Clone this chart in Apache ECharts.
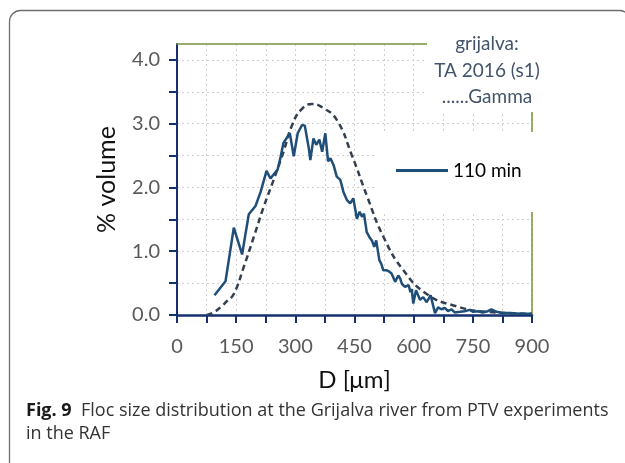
<!DOCTYPE html>
<html>
<head>
<meta charset="utf-8">
<script src="https://cdn.jsdelivr.net/npm/echarts@6/dist/echarts.min.js"></script>
<style>
html,body{margin:0;padding:0;background:#fff;}
#c{width:625px;height:463px;}
</style>
</head>
<body>
<div id="c"></div>
<script>
// ---- data ----
const dSize = [95,123,144,165,182,199,212,227,237,247,255,262,270,275,286,296,306,317,324,334,338,346,353,361,368,376,383,389,397,405,414,422,431,439,447,456,463,469,474,481,488,494,500,505,513,518,523,532,538,544,553,561,566,570,578,587,592,595,599,606,616,624,633,643,654,662,670,679,687,696,704,717,729,742,751,763,775,788,797,810,825,845,870,900];
const volume110 = [0.31,0.53,1.37,0.95,1.58,1.71,1.93,2.26,2.14,2.22,2.28,2.46,2.70,2.72,2.85,2.49,2.85,2.98,2.97,2.62,2.43,2.77,2.67,2.75,2.56,2.85,2.41,2.46,2.35,2.17,2.12,1.93,1.80,1.75,1.83,1.51,1.62,1.54,1.59,1.30,1.22,1.17,1.07,1.17,0.86,0.80,0.70,0.70,0.68,0.65,0.52,0.62,0.57,0.49,0.44,0.47,0.36,0.41,0.18,0.39,0.24,0.28,0.20,0.31,0.03,0.12,0.09,0.11,0.06,0.09,0.04,0.05,0.06,0.08,0.05,0.06,0.04,0.06,0.09,0.05,0.03,0.03,0.02,0.02];
const gammaSize = [75,90,110,127,144,169,195,220,245,270,292,315,342,370,405,443,482,523,574,633,701,785,900];
const gammaFit = [0.0,0.03,0.12,0.22,0.33,0.75,1.23,1.70,2.12,2.56,2.98,3.22,3.31,3.25,3.06,2.51,1.86,1.23,0.70,0.33,0.15,0.05,0.02];
const yTickValues = [0,0.5,1,1.5,2,2.5,3,3.5,4];
const yLabelValues = [0,1,2,3,4];
const xTickValues = [0,75,150,225,300,375,450,525,600,675,750,825,900];
const xLabelValues = [0,150,300,450,600,750,900];
const seriesName = '110 min';
const boxLines = ['grijalva:', 'TA 2016 (s1)', '......Gamma'];
const xName = 'D [\u03bcm]';
const yName = '% volume';
const captionBold = 'Fig. 9';
const captionText = 'Floc size distribution at the Grijalva river from PTV experiments';
const captionText2 = 'in the RAF';

const FONT = 'Lato';
const CAPFONT = '"Open Sans"';
const navy = '#14306e';
const green = '#77933c';

const chart = echarts.init(document.getElementById('c'), null, {renderer: 'canvas'});
chart.setOption({
  animation: false,
  backgroundColor: '#fff',
  textStyle: {fontFamily: FONT},
  grid: {left: 177, right: 93, top: 44, bottom: 148, containLabel: false},
  xAxis: [{
    type: 'value', min: 0, max: 900, interval: 150, position: 'bottom',
    axisLine: {show: true, lineStyle: {color: navy, width: 2.5}},
    axisTick: {show: true, customValues: xTickValues, length: 8, inside: false, lineStyle: {color: navy, width: 2}},
    axisLabel: {customValues: xLabelValues, margin: 22, fontSize: 20, color: '#595959', fontFamily: FONT},
    splitLine: {show: true, lineStyle: {color: '#d0d0d0', type: [2, 3], width: 1}},
    name: xName, nameLocation: 'middle', nameGap: 53,
    nameTextStyle: {fontSize: 24, color: '#111', fontFamily: FONT}
  }, {
    type: 'value', min: 0, max: 900, position: 'top',
    axisLine: {show: true, onZero: false, lineStyle: {color: green, width: 1.5}},
    axisTick: {show: false}, axisLabel: {show: false}, splitLine: {show: false}
  }],
  yAxis: [{
    type: 'value', min: 0, max: 4.25, interval: 1, position: 'left',
    axisLine: {show: true, lineStyle: {color: navy, width: 2}},
    axisTick: {show: true, customValues: yTickValues, length: 8, lineStyle: {color: navy, width: 2}},
    axisLabel: {customValues: yLabelValues, margin: 17, fontSize: 20, color: '#595959', fontFamily: FONT,
      formatter: v => v.toFixed(1)},
    splitLine: {show: true, lineStyle: {color: '#d0d0d0', type: [2, 3], width: 1}},
    name: yName, nameLocation: 'middle', nameGap: 58, nameRotate: 90,
    nameTextStyle: {fontSize: 25, color: '#111', fontFamily: FONT}
  }, {
    type: 'value', min: 0, max: 4.25, position: 'right',
    axisLine: {show: true, onZero: false, lineStyle: {color: green, width: 1.5}},
    axisTick: {show: false}, axisLabel: {show: false}, splitLine: {show: false}
  }],
  legend: {
    show: true, left: 396, top: 161, padding: 0, z: 30,
    data: [{name: seriesName, icon: 'rect'}],
    itemWidth: 52, itemHeight: 3, itemGap: 5,
    textStyle: {fontSize: 19, color: '#000', fontFamily: FONT, padding: [0, 0, 0, 0]}
  },
  graphic: [
    {type: 'rect', shape: {x: 427, y: 30, width: 115, height: 82}, style: {fill: '#fff'}, z: 20},
    {type: 'rect', shape: {x: 377, y: 132, width: 165, height: 80}, style: {fill: '#fff'}, z: 20},
    {type: 'text', x: 487, y: 70.5, z: 25, style: {
      text: boxLines.join('\n'), fill: '#44546a', font: '19px ' + FONT,
      textAlign: 'center', textVerticalAlign: 'middle', lineHeight: 26.5}},
    {type: 'rect', shape: {x: 9.5, y: 10.5, width: 621, height: 480, r: 11},
      style: {fill: 'none', stroke: '#6e6e6e', lineWidth: 1.3}, z: 5},
    {type: 'text', x: 26, y: 399, z: 25, style: {
      rich: {b: {font: 'bold 18px ' + CAPFONT, fill: '#1a1a1a'}, n: {font: '18px ' + CAPFONT, fill: '#333'}},
      text: '{b|' + captionBold + '}{n|  ' + captionText + '}\n{n|' + captionText2 + '}',
      lineHeight: 23, textVerticalAlign: 'top'}}
  ],
  series: [{
    name: seriesName, type: 'line', xAxisIndex: 0, yAxisIndex: 0,
    data: dSize.map((d, i) => [d, volume110[i]]),
    showSymbol: false, symbol: 'none', smooth: false,
    lineStyle: {color: '#1f4e79', width: 2.5}, itemStyle: {color: '#1f4e79'}, z: 3
  }, {
    name: 'Gamma', type: 'line', xAxisIndex: 0, yAxisIndex: 0,
    data: gammaSize.map((d, i) => [d, gammaFit[i]]),
    showSymbol: false, symbol: 'none', smooth: 0.5,
    lineStyle: {color: '#333f50', width: 2.5, type: [6, 4]}, itemStyle: {color: '#333f50'}, z: 2
  }]
});
</script>
</body>
</html>
